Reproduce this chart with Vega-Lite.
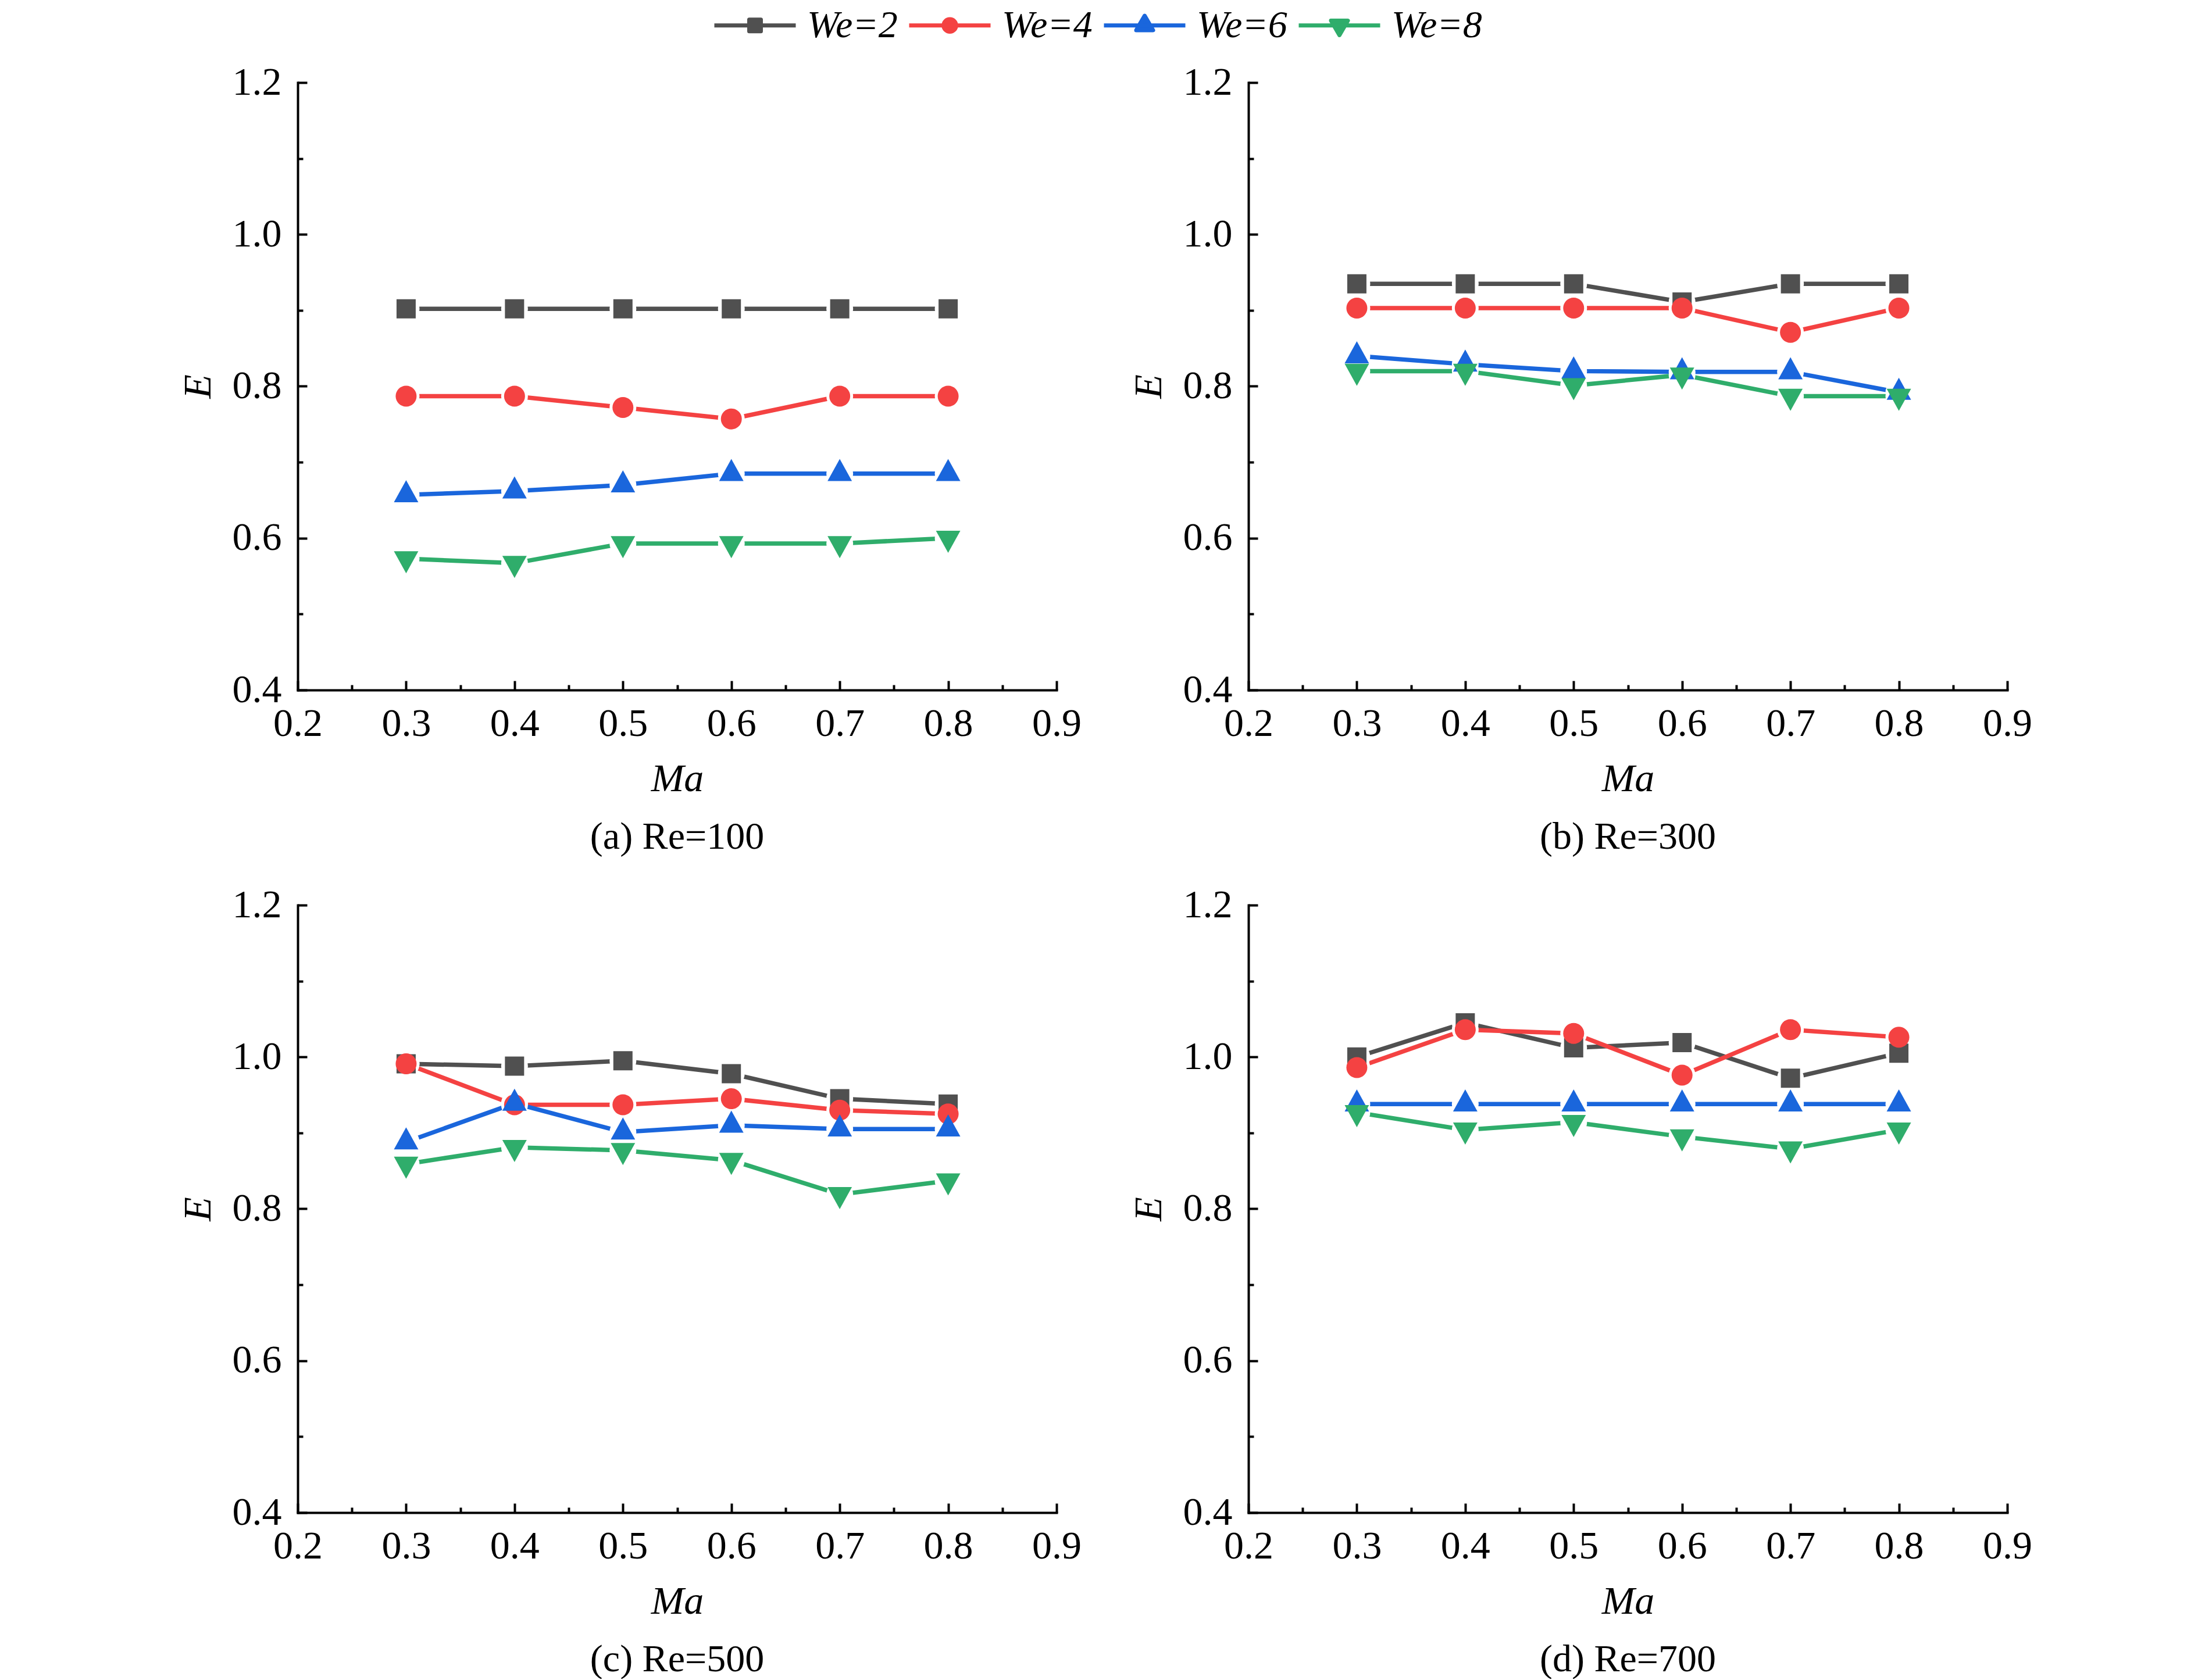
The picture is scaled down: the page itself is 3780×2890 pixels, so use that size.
{
  "$schema": "https://vega.github.io/schema/vega-lite/v6.json",
  "background": "white",
  "padding": {"left": 307, "top": -30, "right": 0, "bottom": 0},
  "data": {"values": [
    {"Re": 100, "We": "We=2", "Ma": 0.3, "E": 0.902},
    {"Re": 100, "We": "We=2", "Ma": 0.4, "E": 0.902},
    {"Re": 100, "We": "We=2", "Ma": 0.5, "E": 0.902},
    {"Re": 100, "We": "We=2", "Ma": 0.6, "E": 0.902},
    {"Re": 100, "We": "We=2", "Ma": 0.7, "E": 0.902},
    {"Re": 100, "We": "We=2", "Ma": 0.8, "E": 0.902},
    {"Re": 100, "We": "We=4", "Ma": 0.3, "E": 0.787},
    {"Re": 100, "We": "We=4", "Ma": 0.4, "E": 0.787},
    {"Re": 100, "We": "We=4", "Ma": 0.5, "E": 0.772},
    {"Re": 100, "We": "We=4", "Ma": 0.6, "E": 0.757},
    {"Re": 100, "We": "We=4", "Ma": 0.7, "E": 0.787},
    {"Re": 100, "We": "We=4", "Ma": 0.8, "E": 0.787},
    {"Re": 100, "We": "We=6", "Ma": 0.3, "E": 0.657},
    {"Re": 100, "We": "We=6", "Ma": 0.4, "E": 0.662},
    {"Re": 100, "We": "We=6", "Ma": 0.5, "E": 0.670},
    {"Re": 100, "We": "We=6", "Ma": 0.6, "E": 0.685},
    {"Re": 100, "We": "We=6", "Ma": 0.7, "E": 0.685},
    {"Re": 100, "We": "We=6", "Ma": 0.8, "E": 0.685},
    {"Re": 100, "We": "We=8", "Ma": 0.3, "E": 0.573},
    {"Re": 100, "We": "We=8", "Ma": 0.4, "E": 0.567},
    {"Re": 100, "We": "We=8", "Ma": 0.5, "E": 0.593},
    {"Re": 100, "We": "We=8", "Ma": 0.6, "E": 0.593},
    {"Re": 100, "We": "We=8", "Ma": 0.7, "E": 0.593},
    {"Re": 100, "We": "We=8", "Ma": 0.8, "E": 0.600},
    {"Re": 300, "We": "We=2", "Ma": 0.3, "E": 0.935},
    {"Re": 300, "We": "We=2", "Ma": 0.4, "E": 0.935},
    {"Re": 300, "We": "We=2", "Ma": 0.5, "E": 0.935},
    {"Re": 300, "We": "We=2", "Ma": 0.6, "E": 0.911},
    {"Re": 300, "We": "We=2", "Ma": 0.7, "E": 0.935},
    {"Re": 300, "We": "We=2", "Ma": 0.8, "E": 0.935},
    {"Re": 300, "We": "We=4", "Ma": 0.3, "E": 0.903},
    {"Re": 300, "We": "We=4", "Ma": 0.4, "E": 0.903},
    {"Re": 300, "We": "We=4", "Ma": 0.5, "E": 0.903},
    {"Re": 300, "We": "We=4", "Ma": 0.6, "E": 0.903},
    {"Re": 300, "We": "We=4", "Ma": 0.7, "E": 0.871},
    {"Re": 300, "We": "We=4", "Ma": 0.8, "E": 0.903},
    {"Re": 300, "We": "We=6", "Ma": 0.3, "E": 0.840},
    {"Re": 300, "We": "We=6", "Ma": 0.4, "E": 0.829},
    {"Re": 300, "We": "We=6", "Ma": 0.5, "E": 0.820},
    {"Re": 300, "We": "We=6", "Ma": 0.6, "E": 0.819},
    {"Re": 300, "We": "We=6", "Ma": 0.7, "E": 0.819},
    {"Re": 300, "We": "We=6", "Ma": 0.8, "E": 0.792},
    {"Re": 300, "We": "We=8", "Ma": 0.3, "E": 0.820},
    {"Re": 300, "We": "We=8", "Ma": 0.4, "E": 0.820},
    {"Re": 300, "We": "We=8", "Ma": 0.5, "E": 0.801},
    {"Re": 300, "We": "We=8", "Ma": 0.6, "E": 0.815},
    {"Re": 300, "We": "We=8", "Ma": 0.7, "E": 0.787},
    {"Re": 300, "We": "We=8", "Ma": 0.8, "E": 0.787},
    {"Re": 500, "We": "We=2", "Ma": 0.3, "E": 0.991},
    {"Re": 500, "We": "We=2", "Ma": 0.4, "E": 0.988},
    {"Re": 500, "We": "We=2", "Ma": 0.5, "E": 0.995},
    {"Re": 500, "We": "We=2", "Ma": 0.6, "E": 0.978},
    {"Re": 500, "We": "We=2", "Ma": 0.7, "E": 0.945},
    {"Re": 500, "We": "We=2", "Ma": 0.8, "E": 0.938},
    {"Re": 500, "We": "We=4", "Ma": 0.3, "E": 0.991},
    {"Re": 500, "We": "We=4", "Ma": 0.4, "E": 0.937},
    {"Re": 500, "We": "We=4", "Ma": 0.5, "E": 0.937},
    {"Re": 500, "We": "We=4", "Ma": 0.6, "E": 0.945},
    {"Re": 500, "We": "We=4", "Ma": 0.7, "E": 0.930},
    {"Re": 500, "We": "We=4", "Ma": 0.8, "E": 0.925},
    {"Re": 500, "We": "We=6", "Ma": 0.3, "E": 0.888},
    {"Re": 500, "We": "We=6", "Ma": 0.4, "E": 0.939},
    {"Re": 500, "We": "We=6", "Ma": 0.5, "E": 0.901},
    {"Re": 500, "We": "We=6", "Ma": 0.6, "E": 0.910},
    {"Re": 500, "We": "We=6", "Ma": 0.7, "E": 0.905},
    {"Re": 500, "We": "We=6", "Ma": 0.8, "E": 0.905},
    {"Re": 500, "We": "We=8", "Ma": 0.3, "E": 0.859},
    {"Re": 500, "We": "We=8", "Ma": 0.4, "E": 0.881},
    {"Re": 500, "We": "We=8", "Ma": 0.5, "E": 0.877},
    {"Re": 500, "We": "We=8", "Ma": 0.6, "E": 0.864},
    {"Re": 500, "We": "We=8", "Ma": 0.7, "E": 0.819},
    {"Re": 500, "We": "We=8", "Ma": 0.8, "E": 0.837},
    {"Re": 700, "We": "We=2", "Ma": 0.3, "E": 1.000},
    {"Re": 700, "We": "We=2", "Ma": 0.4, "E": 1.045},
    {"Re": 700, "We": "We=2", "Ma": 0.5, "E": 1.012},
    {"Re": 700, "We": "We=2", "Ma": 0.6, "E": 1.019},
    {"Re": 700, "We": "We=2", "Ma": 0.7, "E": 0.972},
    {"Re": 700, "We": "We=2", "Ma": 0.8, "E": 1.005},
    {"Re": 700, "We": "We=4", "Ma": 0.3, "E": 0.986},
    {"Re": 700, "We": "We=4", "Ma": 0.4, "E": 1.036},
    {"Re": 700, "We": "We=4", "Ma": 0.5, "E": 1.031},
    {"Re": 700, "We": "We=4", "Ma": 0.6, "E": 0.976},
    {"Re": 700, "We": "We=4", "Ma": 0.7, "E": 1.036},
    {"Re": 700, "We": "We=4", "Ma": 0.8, "E": 1.026},
    {"Re": 700, "We": "We=6", "Ma": 0.3, "E": 0.938},
    {"Re": 700, "We": "We=6", "Ma": 0.4, "E": 0.938},
    {"Re": 700, "We": "We=6", "Ma": 0.5, "E": 0.938},
    {"Re": 700, "We": "We=6", "Ma": 0.6, "E": 0.938},
    {"Re": 700, "We": "We=6", "Ma": 0.7, "E": 0.938},
    {"Re": 700, "We": "We=6", "Ma": 0.8, "E": 0.938},
    {"Re": 700, "We": "We=8", "Ma": 0.3, "E": 0.927},
    {"Re": 700, "We": "We=8", "Ma": 0.4, "E": 0.904},
    {"Re": 700, "We": "We=8", "Ma": 0.5, "E": 0.914},
    {"Re": 700, "We": "We=8", "Ma": 0.6, "E": 0.895},
    {"Re": 700, "We": "We=8", "Ma": 0.7, "E": 0.879},
    {"Re": 700, "We": "We=8", "Ma": 0.8, "E": 0.904}
  ]},
  "columns": 2,
  "bounds": "flush",
  "spacing": {"row": 370, "column": 330},
  "resolve": {"scale": {"color": "shared", "shape": "shared"}, "legend": {"color": "shared"}},
  "concat": [
    {
      "width": 1305, "height": 1045,
      "title": "(a) Re=100",
      "transform": [{"filter": "datum.Re == 100"}],
      "encoding": {
        "x": {"field": "Ma", "type": "quantitative", "title": "Ma", "scale": {"domain": [0.2, 0.9], "nice": false, "zero": false},
          "axis": {"values": [0.2, 0.25, 0.3, 0.35, 0.4, 0.45, 0.5, 0.55, 0.6, 0.65, 0.7, 0.75, 0.8, 0.85, 0.9],
            "labelExpr": "abs(datum.value * 10 - round(datum.value * 10)) < 0.01 ? format(datum.value, '.1f') : ''",
            "tickSize": {"condition": {"test": "abs(datum.value * 10 - round(datum.value * 10)) < 0.01", "value": -16}, "value": -9}}},
        "y": {"field": "E", "type": "quantitative", "title": "E", "scale": {"domain": [0.4, 1.2], "nice": false, "zero": false},
          "axis": {"values": [0.4, 0.5, 0.6, 0.7, 0.8, 0.9, 1.0, 1.1, 1.2],
            "labelExpr": "round(datum.value * 10) % 2 == 0 ? format(datum.value, '.1f') : ''",
            "tickSize": {"condition": {"test": "round(datum.value * 10) % 2 == 0", "value": -16}, "value": -9}}},
        "color": {"field": "We", "type": "nominal"}
      },
      "layer": [
        {"mark": {"type": "line", "strokeWidth": 7.5, "strokeCap": "round"}},
        {"mark": {"type": "point", "shape": "circle", "size": 2116, "filled": true, "opacity": 1}, "encoding": {"fill": {"value": "white"}}},
        {"mark": {"type": "point", "size": 4, "filled": true, "opacity": 1}, "encoding": {"shape": {"field": "We", "type": "nominal", "legend": null}}}
      ]
    },
    {
      "width": 1305, "height": 1045,
      "title": "(b) Re=300",
      "transform": [{"filter": "datum.Re == 300"}],
      "encoding": {
        "x": {"field": "Ma", "type": "quantitative", "title": "Ma", "scale": {"domain": [0.2, 0.9], "nice": false, "zero": false},
          "axis": {"values": [0.2, 0.25, 0.3, 0.35, 0.4, 0.45, 0.5, 0.55, 0.6, 0.65, 0.7, 0.75, 0.8, 0.85, 0.9],
            "labelExpr": "abs(datum.value * 10 - round(datum.value * 10)) < 0.01 ? format(datum.value, '.1f') : ''",
            "tickSize": {"condition": {"test": "abs(datum.value * 10 - round(datum.value * 10)) < 0.01", "value": -16}, "value": -9}}},
        "y": {"field": "E", "type": "quantitative", "title": "E", "scale": {"domain": [0.4, 1.2], "nice": false, "zero": false},
          "axis": {"values": [0.4, 0.5, 0.6, 0.7, 0.8, 0.9, 1.0, 1.1, 1.2],
            "labelExpr": "round(datum.value * 10) % 2 == 0 ? format(datum.value, '.1f') : ''",
            "tickSize": {"condition": {"test": "round(datum.value * 10) % 2 == 0", "value": -16}, "value": -9}}},
        "color": {"field": "We", "type": "nominal"}
      },
      "layer": [
        {"mark": {"type": "line", "strokeWidth": 7.5, "strokeCap": "round"}},
        {"mark": {"type": "point", "shape": "circle", "size": 2116, "filled": true, "opacity": 1}, "encoding": {"fill": {"value": "white"}}},
        {"mark": {"type": "point", "size": 4, "filled": true, "opacity": 1}, "encoding": {"shape": {"field": "We", "type": "nominal", "legend": null}}}
      ]
    },
    {
      "width": 1305, "height": 1045,
      "title": "(c) Re=500",
      "transform": [{"filter": "datum.Re == 500"}],
      "encoding": {
        "x": {"field": "Ma", "type": "quantitative", "title": "Ma", "scale": {"domain": [0.2, 0.9], "nice": false, "zero": false},
          "axis": {"values": [0.2, 0.25, 0.3, 0.35, 0.4, 0.45, 0.5, 0.55, 0.6, 0.65, 0.7, 0.75, 0.8, 0.85, 0.9],
            "labelExpr": "abs(datum.value * 10 - round(datum.value * 10)) < 0.01 ? format(datum.value, '.1f') : ''",
            "tickSize": {"condition": {"test": "abs(datum.value * 10 - round(datum.value * 10)) < 0.01", "value": -16}, "value": -9}}},
        "y": {"field": "E", "type": "quantitative", "title": "E", "scale": {"domain": [0.4, 1.2], "nice": false, "zero": false},
          "axis": {"values": [0.4, 0.5, 0.6, 0.7, 0.8, 0.9, 1.0, 1.1, 1.2],
            "labelExpr": "round(datum.value * 10) % 2 == 0 ? format(datum.value, '.1f') : ''",
            "tickSize": {"condition": {"test": "round(datum.value * 10) % 2 == 0", "value": -16}, "value": -9}}},
        "color": {"field": "We", "type": "nominal"}
      },
      "layer": [
        {"mark": {"type": "line", "strokeWidth": 7.5, "strokeCap": "round"}},
        {"mark": {"type": "point", "shape": "circle", "size": 2116, "filled": true, "opacity": 1}, "encoding": {"fill": {"value": "white"}}},
        {"mark": {"type": "point", "size": 4, "filled": true, "opacity": 1}, "encoding": {"shape": {"field": "We", "type": "nominal", "legend": null}}}
      ]
    },
    {
      "width": 1305, "height": 1045,
      "title": "(d) Re=700",
      "transform": [{"filter": "datum.Re == 700"}],
      "encoding": {
        "x": {"field": "Ma", "type": "quantitative", "title": "Ma", "scale": {"domain": [0.2, 0.9], "nice": false, "zero": false},
          "axis": {"values": [0.2, 0.25, 0.3, 0.35, 0.4, 0.45, 0.5, 0.55, 0.6, 0.65, 0.7, 0.75, 0.8, 0.85, 0.9],
            "labelExpr": "abs(datum.value * 10 - round(datum.value * 10)) < 0.01 ? format(datum.value, '.1f') : ''",
            "tickSize": {"condition": {"test": "abs(datum.value * 10 - round(datum.value * 10)) < 0.01", "value": -16}, "value": -9}}},
        "y": {"field": "E", "type": "quantitative", "title": "E", "scale": {"domain": [0.4, 1.2], "nice": false, "zero": false},
          "axis": {"values": [0.4, 0.5, 0.6, 0.7, 0.8, 0.9, 1.0, 1.1, 1.2],
            "labelExpr": "round(datum.value * 10) % 2 == 0 ? format(datum.value, '.1f') : ''",
            "tickSize": {"condition": {"test": "round(datum.value * 10) % 2 == 0", "value": -16}, "value": -9}}},
        "color": {"field": "We", "type": "nominal",
          "scale": {"domain": ["We=2", "We=4", "We=6", "We=8"], "range": ["#505050", "#f44242", "#1a66dc", "#2fad6b"]},
          "legend": {
            "title": null, "orient": "none", "direction": "horizontal", "legendX": 713, "legendY": -172,
            "symbolSize": 19600, "symbolStrokeWidth": 7, "labelOffset": 16, "columnPadding": 16, "padding": 0,
            "labelFont": "Liberation Serif", "labelFontSize": 66, "labelFontStyle": "italic", "labelColor": "black",
            "encode": {"symbols": {"update": {
              "shape": {"signal": "datum.value == 'We=2' ? 'M-1,0H1M-0.143,-0.143H0.143V0.143H-0.143Z' : datum.value == 'We=4' ? 'M-1,0H1M-0.154,0A0.154,0.154,0,1,1,0.154,0A0.154,0.154,0,1,1,-0.154,0Z' : datum.value == 'We=6' ? 'M-1,0H1M0,-0.238L0.207,0.119L-0.207,0.119Z' : 'M-1,0H1M0,0.238L0.207,-0.119L-0.207,-0.119Z'"},
              "fill": {"signal": "datum.value == 'We=2' ? '#505050' : datum.value == 'We=4' ? '#f44242' : datum.value == 'We=6' ? '#1a66dc' : '#2fad6b'"},
              "stroke": {"signal": "datum.value == 'We=2' ? '#505050' : datum.value == 'We=4' ? '#f44242' : datum.value == 'We=6' ? '#1a66dc' : '#2fad6b'"},
              "strokeWidth": {"value": 7},
              "strokeJoin": {"value": "round"},
              "opacity": {"value": 1}
            }}}
          }}
      },
      "layer": [
        {"mark": {"type": "line", "strokeWidth": 7.5, "strokeCap": "round"}},
        {"mark": {"type": "point", "shape": "circle", "size": 2116, "filled": true, "opacity": 1}, "encoding": {"fill": {"value": "white"}}},
        {"mark": {"type": "point", "size": 4, "filled": true, "opacity": 1}, "encoding": {"shape": {"field": "We", "type": "nominal",
          "scale": {"range": ["M-16.5,-16.5H16.5V16.5H-16.5Z", "M-18,0A18,18,0,1,1,18,0A18,18,0,1,1,-18,0Z", "M0,-25.3L21,12.7L-21,12.7Z", "M0,25.3L21,-12.7L-21,-12.7Z"]},
          "legend": null}}}
      ]
    }
  ],
  "config": {
    "view": {"stroke": null},
    "font": "Liberation Serif",
    "axis": {
      "grid": false, "domainColor": "black", "domainWidth": 4, "domainCap": "square",
      "tickColor": "black", "tickWidth": 4,
      "labelFont": "Liberation Serif", "labelFontSize": 68, "labelColor": "black",
      "labelOverlap": false, "labelFlush": false, "labelBound": false,
      "titleFont": "Liberation Serif", "titleFontSize": 68, "titleFontStyle": "italic", "titleFontWeight": "normal", "titleColor": "black"
    },
    "axisX": {"labelPadding": 40, "titlePadding": 20},
    "axisY": {"labelPadding": 44, "titlePadding": 24},
    "title": {"orient": "bottom", "font": "Liberation Serif", "fontSize": 66, "fontWeight": "normal", "color": "black", "anchor": "middle", "offset": 34}
  }
}
